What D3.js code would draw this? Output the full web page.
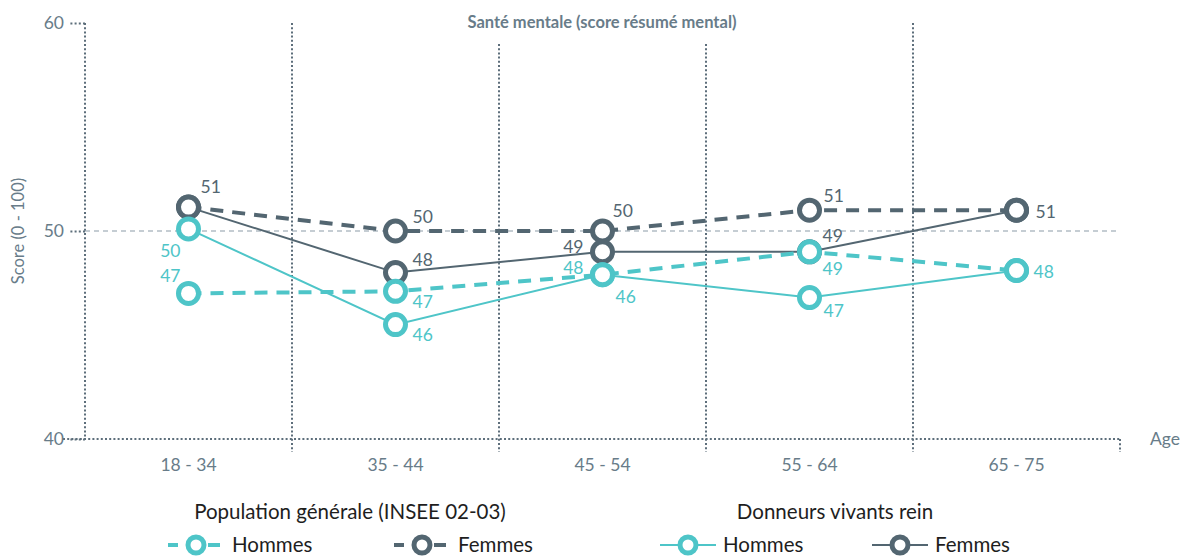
<!DOCTYPE html>
<html>
<head>
<meta charset="utf-8">
<script src="https://cdn.jsdelivr.net/npm/d3@7"></script>
<style>
body{margin:0;background:#fff;}
svg text{font-family:Lato,"Noto Sans",sans-serif;}
</style>
</head>
<body>
<svg width="1184" height="557"></svg>
<script>
// valeurs
var categories=["18 - 34","35 - 44","45 - 54","55 - 64","65 - 75"];
var yTicks=[40,50,60];

var popHommes=[47.0,47.1,47.9,49.0,48.1];
var popFemmes=[51.15,50.0,50.0,51.0,51.0];
var donHommes=[50.1,45.5,47.9,46.8,48.1];
var donFemmes=[51.15,48.0,49.0,49.0,51.0];

var popHommesLabels=["47","47","48","49",""];
var popFemmesLabels=["51","50","50","51","51"];
var donHommesLabels=["50","46","46","47","48"];
var donFemmesLabels=["","48","49","49",""];

var teal="#4ec5c8";
var dark="#536671";
var axisColor="#687c89";
var dotted="2,2.2";

var svg=d3.select("svg");
var plotLeft=85, plotRight=1120, plotTop=23, plotBottom=439;

var x=d3.scaleBand()
	.domain(categories)
	.range([plotLeft,plotRight]);

var y=d3.scaleLinear()
	.domain([40,60])
	.range([plotBottom,plotTop]);

// grille verticale pointillée
var bounds=x.domain().map(d=>x(d)).concat([plotRight]);
svg.append("g")
	.selectAll("line")
	.data(bounds)
	.enter()
	.append("line")
	.attr("x1",d=>d).attr("x2",d=>d)
	.attr("y1",(d,i)=>i==bounds.length-1?plotBottom:plotTop)
	.attr("y2",(d,i)=>i==0?plotBottom:452)
	.attr("stroke","#5d6e7b")
	.attr("stroke-width",2)
	.attr("stroke-dasharray",dotted);

// axe x pointillé
svg.append("line")
	.attr("x1",63).attr("x2",plotRight)
	.attr("y1",y(40)).attr("y2",y(40))
	.attr("stroke","#5d6e7b")
	.attr("stroke-width",2)
	.attr("stroke-dasharray",dotted);

// petits traits des graduations y
var yaxis=d3.axisLeft(y)
	.tickValues(yTicks)
	.tickSize(15)
	.tickPadding(6);
var gy=svg.append("g")
	.attr("transform","translate("+plotLeft+",0)")
	.call(yaxis);
gy.select(".domain").remove();
gy.selectAll(".tick line")
	.attr("stroke","#5d6e7b")
	.attr("stroke-width",2)
	.attr("stroke-dasharray",dotted);
gy.selectAll(".tick text")
	.attr("fill",axisColor)
	.style("font-size","17.5px")
	.style("font-family","Lato, sans-serif");

// ligne de référence à 50
svg.append("line")
	.attr("x1",plotLeft).attr("x2",plotRight)
	.attr("y1",y(50)).attr("y2",y(50))
	.attr("stroke","#8c9ca7")
	.attr("stroke-width",1.2)
	.attr("stroke-dasharray","5,4");

// axe x : libellés
var xaxis=d3.axisBottom(x).tickSize(0).tickPadding(20);
var gx=svg.append("g")
	.attr("transform","translate(0,"+plotBottom+")")
	.call(xaxis);
gx.select(".domain").remove();
gx.selectAll(".tick text")
	.attr("fill",axisColor)
	.style("font-size","17.5px")
	.style("font-family","Lato, sans-serif");

svg.append("text")
	.attr("x",1150).attr("y",y(40)+6)
	.attr("fill",axisColor)
	.style("font-size","17.5px")
	.text("Age");

svg.append("text")
	.attr("transform","translate(24,"+y(50)+") rotate(-90)")
	.style("text-anchor","middle")
	.attr("fill",axisColor)
	.style("font-size","16.5px")
	.text("Score (0 - 100)");

// titre sur fond blanc
svg.append("rect")
	.attr("x",450).attr("y",0).attr("width",310).attr("height",44)
	.attr("fill","#fff");
svg.append("text")
	.attr("x",602).attr("y",28)
	.style("text-anchor","middle")
	.style("font-weight","bold")
	.style("font-size","16.5px")
	.attr("fill",axisColor)
	.text("Santé mentale (score résumé mental)");

// séries
var series=[
	{values:popFemmes,labels:popFemmesLabels,color:dark,dash:"13,9",width:4,
	 place:[[12,-14,"start"],[17,-8,"start"],[10,-14,"start"],[14,-8,"start"],[19,8,"start"]]},
	{values:donFemmes,labels:donFemmesLabels,color:dark,dash:null,width:2,
	 place:[[0,0,"start"],[17,-7,"start"],[-19,1,"end"],[13,-10,"start"],[0,0,"start"]]},
	{values:popHommes,labels:popHommesLabels,color:teal,dash:"13,9",width:4,
	 place:[[-8,-11,"end"],[17,17,"start"],[-19,-1,"end"],[13,23,"start"],[0,0,"start"]]},
	{values:donHommes,labels:donHommesLabels,color:teal,dash:null,width:2,
	 place:[[-8,28,"end"],[17,16,"start"],[13,28,"start"],[14,19,"start"],[17,7,"start"]]}
];

var line=d3.line()
	.x((d,i)=>x(categories[i])+x.bandwidth()/2)
	.y(d=>y(d));

series.forEach(function(s){
	svg.append("path")
		.datum(s.values)
		.attr("d",line)
		.attr("fill","none")
		.attr("stroke",s.color)
		.attr("stroke-width",s.width)
		.attr("stroke-dasharray",s.dash);
});

series.forEach(function(s){
	svg.append("g")
		.selectAll("circle")
		.data(s.values)
		.enter()
		.append("circle")
		.attr("cx",(d,i)=>x(categories[i])+x.bandwidth()/2)
		.attr("cy",d=>y(d))
		.attr("r",10)
		.attr("fill","#fff")
		.attr("stroke",s.color)
		.attr("stroke-width",5);
});

series.forEach(function(s){
	svg.append("g")
		.selectAll("text")
		.data(s.values)
		.enter()
		.append("text")
		.attr("x",(d,i)=>x(categories[i])+x.bandwidth()/2+s.place[i][0])
		.attr("y",(d,i)=>y(d)+s.place[i][1])
		.style("text-anchor",(d,i)=>s.place[i][2])
		.style("font-size","17.5px")
		.attr("fill",s.color)
		.text((d,i)=>s.labels[i]);
});

// légende
var legendTitles=[
	{text:"Population générale (INSEE 02-03)",x:350},
	{text:"Donneurs vivants rein",x:835}
];
svg.selectAll(".ltitle")
	.data(legendTitles)
	.enter()
	.append("text")
	.attr("x",d=>d.x).attr("y",519)
	.style("text-anchor","middle")
	.style("font-size","20.5px")
	.attr("fill","#1e1e1e")
	.text(d=>d.text);

var legendItems=[
	{name:"Hommes",color:teal,dashed:true,x:168},
	{name:"Femmes",color:dark,dashed:true,x:394},
	{name:"Hommes",color:teal,dashed:false,x:660},
	{name:"Femmes",color:dark,dashed:false,x:872}
];
var li=svg.selectAll(".litem")
	.data(legendItems)
	.enter()
	.append("g")
	.attr("transform",d=>"translate("+d.x+",545)");
li.each(function(d){
	var g=d3.select(this);
	if(d.dashed){
		g.append("line").attr("x1",0).attr("x2",10).attr("y1",0).attr("y2",0)
			.attr("stroke",d.color).attr("stroke-width",4);
		g.append("line").attr("x1",40).attr("x2",52).attr("y1",0).attr("y2",0)
			.attr("stroke",d.color).attr("stroke-width",4);
	}else{
		g.append("line").attr("x1",0).attr("x2",56).attr("y1",0).attr("y2",0)
			.attr("stroke",d.color).attr("stroke-width",2);
	}
	g.append("circle").attr("cx",28).attr("cy",0).attr("r",8)
		.attr("fill","#fff").attr("stroke",d.color).attr("stroke-width",5);
	g.append("text").attr("x",d.dashed?64:63).attr("y",0).attr("dy","0.35em")
		.style("font-size","20.5px").attr("fill","#1e1e1e").text(d.name);
});
</script>
</body>
</html>
